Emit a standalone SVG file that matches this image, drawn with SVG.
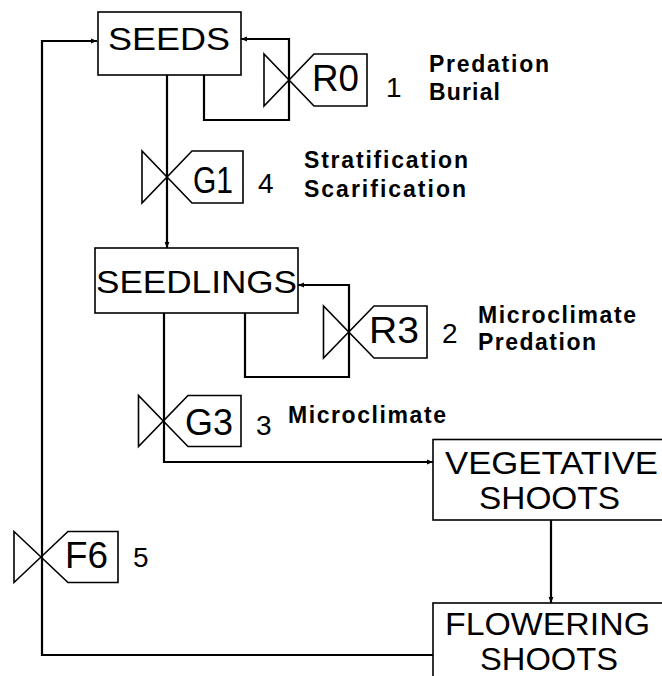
<svg xmlns="http://www.w3.org/2000/svg" width="662" height="676" viewBox="0 0 662 676">
<style>
.box{fill:#fff;stroke:#000;stroke-width:1.6}
.ln{fill:none;stroke:#000;stroke-width:2.2}
.vl{fill:none;stroke:#000;stroke-width:1.6;stroke-linejoin:miter}
.big{font-family:"Liberation Sans",Arial,sans-serif;font-size:32px;fill:#000}
.big2{font-family:"Liberation Sans",Arial,sans-serif;font-size:31px;fill:#000}
.lab{font-family:"Liberation Sans",Arial,sans-serif;font-size:37px;fill:#000}
.num{font-family:"Liberation Sans",Arial,sans-serif;font-size:28px;fill:#000}
.sm{font-family:"Liberation Sans",Arial,sans-serif;font-size:23px;font-weight:bold;fill:#000}
</style>
<defs>
<marker id="ah" viewBox="0 0 10 10" refX="10" refY="5" markerWidth="6" markerHeight="6" markerUnits="userSpaceOnUse" orient="auto">
<path d="M0,1 L10,5 L0,9 Z" fill="#000"/>
</marker>
</defs>
<g id="connectors">
<path class="ln" d="M433,655 L42,655 L42,41 L97,41" marker-end="url(#ah)"/>
<path class="ln" d="M204,75 L204,120 L289,120 L289,39 L241,39" marker-end="url(#ah)"/>
<path class="ln" d="M167,75 L167,248" marker-end="url(#ah)"/>
<path class="ln" d="M245,313 L245,377 L349,377 L349,285 L298,285" marker-end="url(#ah)"/>
<path class="ln" d="M164,313 L164,462 L433,462" marker-end="url(#ah)"/>
<path class="ln" d="M551,520 L551,603" marker-end="url(#ah)"/>
</g>
<g id="seeds">
<rect class="box" x="98" y="12" width="143" height="63"/>
<text class="big" x="108" y="50" textLength="122" lengthAdjust="spacingAndGlyphs">SEEDS</text>
</g>
<g id="seedlings">
<rect class="box" x="95" y="248" width="203" height="65"/>
<text class="big" x="96" y="293" textLength="201" lengthAdjust="spacingAndGlyphs">SEEDLINGS</text>
</g>
<g id="vegetative">
<rect class="box" x="433" y="439.5" width="240" height="80.5"/>
<text class="big2" x="445" y="474" textLength="213" lengthAdjust="spacingAndGlyphs">VEGETATIVE</text>
<text class="big2" x="479" y="509" textLength="141" lengthAdjust="spacingAndGlyphs">SHOOTS</text>
</g>
<g id="flowering">
<rect class="box" x="433" y="603" width="240" height="90"/>
<text class="big2" x="445" y="635" textLength="205" lengthAdjust="spacingAndGlyphs">FLOWERING</text>
<text class="big2" x="480" y="669.5" textLength="138" lengthAdjust="spacingAndGlyphs">SHOOTS</text>
</g>
<g id="valve-R0">
<path class="vl" d="M264,54 L264,106 L314,54 L367,54 L367,106 L314,106 L264,54 Z" fill="#fff"/>
<text class="lab" x="312" y="91" textLength="47" lengthAdjust="spacingAndGlyphs">R0</text>
<text class="num" x="386" y="97">1</text>
<text class="sm" x="429" y="72" textLength="120">Predation</text>
<text class="sm" x="429" y="100" textLength="71">Burial</text>
</g>
<g id="valve-G1">
<path class="vl" d="M142,151 L142,203 L192,151 L243,151 L243,203 L192,203 L142,151 Z" fill="#fff"/>
<text class="lab" x="193" y="193" textLength="40" lengthAdjust="spacingAndGlyphs">G1</text>
<text class="num" x="258" y="193">4</text>
<text class="sm" x="304" y="168" textLength="164">Stratification</text>
<text class="sm" x="304" y="197" textLength="162">Scarification</text>
</g>
<g id="valve-R3">
<path class="vl" d="M323.5,306 L323.5,358 L374,306 L427,306 L427,358 L374,358 L323.5,306 Z" fill="#fff"/>
<text class="lab" x="369" y="343" textLength="50" lengthAdjust="spacingAndGlyphs">R3</text>
<text class="num" x="442" y="343">2</text>
<text class="sm" x="478" y="323" textLength="158">Microclimate</text>
<text class="sm" x="478" y="350" textLength="118">Predation</text>
</g>
<g id="valve-G3">
<path class="vl" d="M138.5,395.5 L138.5,446.5 L188,395.5 L241,395.5 L241,446.5 L188,446.5 L138.5,395.5 Z" fill="#fff"/>
<text class="lab" x="185" y="435" textLength="48" lengthAdjust="spacingAndGlyphs">G3</text>
<text class="num" x="256" y="435">3</text>
<text class="sm" x="288" y="423" textLength="158">Microclimate</text>
</g>
<g id="valve-F6">
<path class="vl" d="M14,531.5 L14,582.5 L68,531.5 L118,531.5 L118,582.5 L68,582.5 L14,531.5 Z" fill="#fff"/>
<text class="lab" x="65" y="568" textLength="43" lengthAdjust="spacingAndGlyphs">F6</text>
<text class="num" x="133" y="567">5</text>
</g>
</svg>
